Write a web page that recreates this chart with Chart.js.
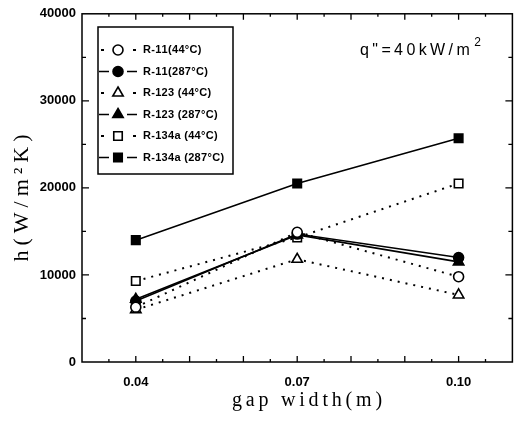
<!DOCTYPE html>
<html>
<head>
<meta charset="utf-8">
<script src="https://cdn.jsdelivr.net/npm/chart.js@4.4.1/dist/chart.umd.min.js"></script>
<style>
  html, body { margin: 0; padding: 0; background: #fff; }
</style>
</head>
<body>
<canvas id="grafik" width="520" height="422"></canvas>
<script>
// values
const gapWidth = [0.04, 0.07, 0.10];
const r11Low = [6300, 14900, 9800];
const r11High = [7000, 14700, 12000];
const r123Low = [6000, 11800, 7700];
const r123High = [7200, 14600, 11500];
const r134aLow = [9300, 14300, 20500];
const r134aHigh = [14000, 20500, 25700];
const seriesLabels = ['R-11(44°C)', 'R-11(287°C)', 'R-123 (44°C)', 'R-123 (287°C)', 'R-134a (44°C)', 'R-134a (287°C)'];
const xTicks = [0.04, 0.07, 0.10];
const xTickLabels = ['0.04', '0.07', '0.10'];
const yTicks = [0, 10000, 20000, 30000, 40000];

function punkte(values) {
    return values.map(function(v, i) { return { x: gapWidth[i], y: v }; });
}

function seri(label, values, style, open, dotted) {
    return {
        label: label,
        data: punkte(values),
        borderColor: '#000',
        borderWidth: dotted ? 2 : 1.6,
        borderDash: dotted ? [2, 6] : [],
        pointStyle: style,
        pointRadius: style === 'circle' ? 5 : 6,
        pointBorderWidth: 1.6,
        pointBorderColor: '#000',
        pointBackgroundColor: open ? '#fff' : '#000',
        tension: 0,
        fill: false
    };
}

// draw text letter by letter (the scan is widely spaced)
function spaced(ctx, text, x, y, gap, align) {
    let w = 0;
    for (const ch of text) w += ctx.measureText(ch).width + gap;
    w -= gap;
    let cx = align === 'center' ? x - w / 2 : x;
    for (const ch of text) {
        ctx.fillText(ch, cx, y);
        cx += ctx.measureText(ch).width + gap;
    }
    return cx;
}

const cercevePlugin = {
    id: 'cerceve',
    afterDraw: function(chart) {
        const ctx = chart.ctx;
        const a = chart.chartArea;
        const xs = chart.scales.x, ys = chart.scales.y;
        ctx.save();
        ctx.strokeStyle = '#000';
        ctx.lineWidth = 1.5;
        ctx.strokeRect(a.left, a.top, a.right - a.left, a.bottom - a.top);

        // inward tick marks, all four sides
        ctx.lineWidth = 1.3;
        ctx.beginPath();
        for (let k = 7; k <= 21; k++) {
            const px = xs.getPixelForValue(k * 0.005);
            const len = k % 2 === 0 ? 6 : 3;
            ctx.moveTo(px, a.bottom); ctx.lineTo(px, a.bottom - len);
            ctx.moveTo(px, a.top); ctx.lineTo(px, a.top + len);
        }
        for (let k = 1; k <= 7; k++) {
            const py = ys.getPixelForValue(k * 5000);
            const len = k % 2 === 0 ? 7 : 4;
            ctx.moveTo(a.left, py); ctx.lineTo(a.left + len, py);
            ctx.moveTo(a.right, py); ctx.lineTo(a.right - len, py);
        }
        ctx.stroke();

        // axis titles
        ctx.fillStyle = '#000';
        ctx.textBaseline = 'middle';
        ctx.font = '20px "Liberation Serif", "Times New Roman", serif';
        spaced(ctx, 'gap width(m)', 307, 401, 3.8, 'center');
        ctx.save();
        ctx.translate(22, 198);
        ctx.rotate(-Math.PI / 2);
        ctx.font = '22px "Liberation Serif", "Times New Roman", serif';
        spaced(ctx, 'h(W/m²K)', 0, 0, 5, 'center');
        ctx.restore();

        // q" annotation
        ctx.font = '16px "Liberation Sans", Arial, sans-serif';
        ctx.textBaseline = 'alphabetic';
        const son = spaced(ctx, 'q"=40kW/m', 360, 55, 3.4, 'left');
        ctx.font = '12px "Liberation Sans", Arial, sans-serif';
        ctx.fillText('2', son + 1, 46);

        // legend box
        ctx.lineWidth = 1.5;
        ctx.strokeRect(98, 27, 135, 147);
        ctx.font = 'bold 11px "Liberation Sans", Arial, sans-serif';
        ctx.textBaseline = 'middle';
        ctx.textAlign = 'left';
        chart.data.datasets.forEach(function(ds, i) {
            const y = 50 + i * 21.5;
            ctx.save();
            ctx.strokeStyle = '#000';
            ctx.lineWidth = ds.borderWidth;
            ctx.beginPath();
            if (ds.borderDash.length) {
                ctx.moveTo(101, y); ctx.lineTo(104, y);
                ctx.moveTo(133, y); ctx.lineTo(136, y);
            } else {
                ctx.moveTo(99, y); ctx.lineTo(109, y);
                ctx.moveTo(127, y); ctx.lineTo(137, y);
            }
            ctx.stroke();
            ctx.fillStyle = ds.pointBackgroundColor;
            ctx.lineWidth = ds.pointBorderWidth;
            Chart.helpers.drawPoint(ctx, {
                pointStyle: ds.pointStyle,
                radius: ds.pointRadius,
                rotation: 0,
                borderWidth: ds.pointBorderWidth
            }, 118, y);
            ctx.restore();
            ctx.fillStyle = '#000';
            spaced(ctx, ds.label, 143, y, 0.3, 'left');
        });
        ctx.restore();
    }
};

const tickFont = { family: '"Liberation Sans", Arial, sans-serif', size: 13, weight: 'bold' };

new Chart(document.getElementById('grafik'), {
    type: 'line',
    data: {
        datasets: [
            seri(seriesLabels[0], r11Low, 'circle', true, true),
            seri(seriesLabels[1], r11High, 'circle', false, false),
            seri(seriesLabels[2], r123Low, 'triangle', true, true),
            seri(seriesLabels[3], r123High, 'triangle', false, false),
            seri(seriesLabels[4], r134aLow, 'rect', true, true),
            seri(seriesLabels[5], r134aHigh, 'rect', false, false)
        ]
    },
    options: {
        responsive: false,
        animation: false,
        devicePixelRatio: 1,
        layout: { padding: { top: 12, right: 3, left: 0, bottom: 0 } },
        plugins: {
            legend: { display: false },
            tooltip: { enabled: false }
        },
        scales: {
            x: {
                type: 'linear',
                min: 0.03,
                max: 0.11,
                border: { display: false },
                grid: { display: false, drawTicks: false },
                afterBuildTicks: function(scale) {
                    scale.ticks = xTicks.map(function(v) { return { value: v }; });
                },
                afterFit: function(scale) { scale.height = 60; },
                ticks: {
                    color: '#000',
                    font: tickFont,
                    padding: 13,
                    maxRotation: 0,
                    autoSkip: false,
                    callback: function(value) {
                        const i = xTicks.indexOf(value);
                        return i >= 0 ? xTickLabels[i] : '';
                    }
                }
            },
            y: {
                min: 0,
                max: 40000,
                border: { display: false },
                grid: { display: false, drawTicks: false },
                afterBuildTicks: function(scale) {
                    scale.ticks = yTicks.map(function(v) { return { value: v }; });
                },
                afterFit: function(scale) { scale.width = 82; },
                ticks: {
                    color: '#000',
                    font: tickFont,
                    padding: 6,
                    callback: function(value) { return String(value); }
                }
            }
        }
    },
    plugins: [cercevePlugin]
});
</script>
</body>
</html>
